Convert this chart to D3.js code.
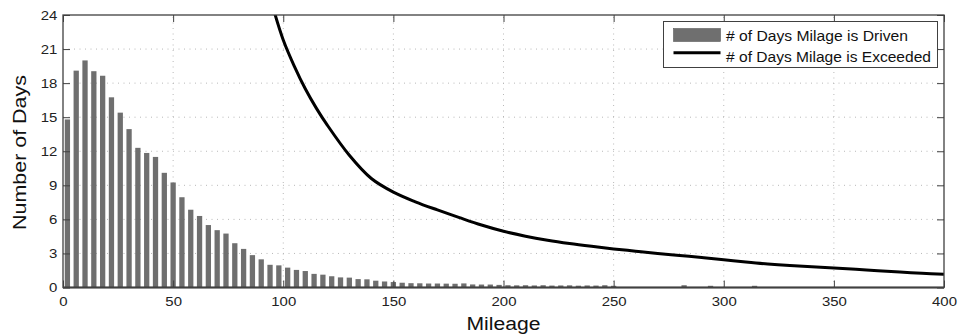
<!DOCTYPE html>
<html>
<head>
<meta charset="utf-8">
<script src="https://cdn.jsdelivr.net/npm/d3@7/dist/d3.min.js"></script>
<style>
  html, body { margin: 0; padding: 0; background: #fff; }
  svg { display: block; font-family: "Liberation Sans", Arial, Helvetica, sans-serif; }
</style>
</head>
<body>
<svg id="chart" width="961" height="335"></svg>
<script>
// Daily mileage histogram (4-mile bins starting at 0) and exceedance curve
const binWidth = 4;
const driven = [
  14.8, 19.1, 20.0, 19.05, 18.65, 16.75, 15.4, 13.95, 12.3, 11.85,
  11.5, 10.1, 9.25, 7.95, 6.85, 6.3, 5.5, 5.05, 4.75, 3.9,
  3.4, 2.85, 2.48, 2.0, 1.95, 1.75, 1.55, 1.45, 1.2, 1.13,
  0.99, 0.89, 0.87, 0.74, 0.72, 0.6, 0.53, 0.48, 0.42, 0.38,
  0.37, 0.35, 0.35, 0.34, 0.33, 0.36, 0.27, 0.26, 0.26, 0.23,
  0.2, 0.19, 0.2, 0.18, 0.2, 0.17, 0.18, 0.19, 0.16, 0.18,
  0.17, 0.2, 0.15, 0, 0, 0, 0, 0, 0, 0,
  0.2, 0, 0, 0.15, 0, 0, 0, 0, 0.15, 0,
  0, 0, 0, 0, 0, 0, 0, 0, 0, 0,
  0, 0, 0, 0, 0, 0, 0, 0, 0, 0
];

const exceedMiles = [85, 90, 95, 100, 105, 110, 115, 120, 130, 140, 150, 160, 170, 180, 190,
  200, 210, 220, 230, 240, 250, 260, 270, 280, 290, 300, 310, 320, 330, 340, 350,
  360, 370, 380, 390, 400];
const exceedDays = [33.0, 28.6, 24.9, 21.8, 19.5, 17.5, 15.8, 14.3, 11.65, 9.6, 8.4, 7.55, 6.83, 6.15, 5.5,
  4.95, 4.52, 4.17, 3.88, 3.63, 3.4, 3.2, 3.0, 2.82, 2.64, 2.45, 2.25, 2.07, 1.93, 1.82, 1.72,
  1.6, 1.47, 1.36, 1.26, 1.16];

const xTicks = [0, 50, 100, 150, 200, 250, 300, 350, 400];
const yTicks = [0, 3, 6, 9, 12, 15, 18, 21, 24];

const xLabel = "Mileage";
const yLabel = "Number of Days";
const legendLabels = ["# of Days Milage is Driven", "# of Days Milage is Exceeded"];

const barColor = "#6f6f6f";
const axisColor = "#404040";
const gridColor = "#b8b8b8";

const svg = d3.select("#chart");
const margin = { left: 63, top: 15, right: 17, bottom: 47.5 };
const W = 961, H = 335;
const x0 = margin.left, x1 = W - margin.right;
const y0 = H - margin.bottom, y1 = margin.top;

const x = d3.scaleLinear().domain([0, 400]).range([x0, x1]);
const y = d3.scaleLinear().domain([0, 24]).range([y0, y1]);

svg.append("defs").append("clipPath").attr("id", "plotClip")
  .append("rect").attr("x", x0).attr("y", y1).attr("width", x1 - x0).attr("height", y0 - y1);

// dotted grid
const grid = svg.append("g");
grid.selectAll("line.gx").data(xTicks.filter(t => t > 0 && t < 400)).join("line")
  .attr("x1", d => x(d)).attr("x2", d => x(d)).attr("y1", y0).attr("y2", y1)
  .attr("stroke", gridColor).attr("stroke-width", 1).attr("stroke-dasharray", "1,4.5");
grid.selectAll("line.gy").data(yTicks.filter(t => t > 0 && t < 24)).join("line")
  .attr("y1", d => y(d)).attr("y2", d => y(d)).attr("x1", x0).attr("x2", x1)
  .attr("stroke", gridColor).attr("stroke-width", 1).attr("stroke-dasharray", "1,4.5");

// histogram bars
const barFrac = 0.6;
svg.append("g").attr("clip-path", "url(#plotClip)")
  .selectAll("rect").data(driven.map((v, i) => ({ c: i * binWidth + binWidth / 2, v })))
  .join("rect")
  .attr("x", d => x(d.c - binWidth * barFrac / 2))
  .attr("width", d => x(d.c + binWidth * barFrac / 2) - x(d.c - binWidth * barFrac / 2))
  .attr("y", d => y(d.v))
  .attr("height", d => y(0) - y(d.v))
  .attr("fill", barColor);

// exceedance curve
const line = d3.line().x(d => x(d[0])).y(d => y(d[1])).curve(d3.curveCatmullRom.alpha(0.5));
svg.append("path").attr("clip-path", "url(#plotClip)")
  .datum(exceedMiles.map((m, i) => [m, exceedDays[i]]))
  .attr("d", line).attr("fill", "none").attr("stroke", "#000").attr("stroke-width", 3)
  .attr("stroke-linejoin", "round");

// axes with inward ticks on all four sides
function styleAxis(g) {
  g.selectAll(".domain").remove();
  g.selectAll(".tick line").attr("stroke", axisColor).attr("stroke-width", 1);
  g.selectAll(".tick text").attr("fill", "#222").attr("font-size", 13)
    .attr("transform", "scale(1.15,1)");
}
svg.append("g").attr("transform", `translate(0,${y0})`)
  .call(d3.axisBottom(x).tickValues(xTicks).tickSize(-7).tickPadding(9).tickFormat(d3.format("d")))
  .call(styleAxis);
svg.append("g").attr("transform", `translate(${x0},0)`)
  .call(d3.axisLeft(y).tickValues(yTicks).tickSize(-7).tickPadding(5).tickFormat(d3.format("d")))
  .call(styleAxis);
svg.append("g").attr("transform", `translate(0,${y1})`)
  .call(d3.axisTop(x).tickValues(xTicks).tickSize(-7).tickFormat(""))
  .call(styleAxis);
svg.append("g").attr("transform", `translate(${x1},0)`)
  .call(d3.axisRight(y).tickValues(yTicks).tickSize(-7).tickFormat(""))
  .call(styleAxis);

// plot frame
svg.append("rect").attr("x", x0).attr("y", y1).attr("width", x1 - x0).attr("height", y0 - y1)
  .attr("fill", "none").attr("stroke", axisColor).attr("stroke-width", 1.3);
svg.append("line").attr("x1", x0).attr("x2", x1).attr("y1", y0).attr("y2", y0)
  .attr("stroke", axisColor).attr("stroke-width", 2);

// axis titles
svg.append("text").attr("x", (x0 + x1) / 2).attr("y", 330).attr("text-anchor", "middle")
  .attr("font-size", 18).attr("fill", "#111")
  .attr("textLength", 74).attr("lengthAdjust", "spacingAndGlyphs").text(xLabel);
svg.append("text").attr("transform", `translate(26,152.5) rotate(-90)`).attr("text-anchor", "middle")
  .attr("font-size", 18).attr("fill", "#111")
  .attr("textLength", 155).attr("lengthAdjust", "spacingAndGlyphs").text(yLabel);

// legend
const lg = svg.append("g");
lg.append("rect").attr("x", 663.5).attr("y", 21.5).attr("width", 274).attr("height", 46)
  .attr("fill", "#fff").attr("stroke", axisColor).attr("stroke-width", 1);
lg.append("rect").attr("x", 673.5).attr("y", 28.5).attr("width", 47).attr("height", 13)
  .attr("fill", barColor).attr("stroke", "#5a5a5a").attr("stroke-width", 0.6);
lg.append("line").attr("x1", 673.5).attr("x2", 720.5).attr("y1", 52.7).attr("y2", 52.7)
  .attr("stroke", "#000").attr("stroke-width", 3);
lg.append("text").attr("x", 726).attr("y", 40.7).attr("font-size", 14).attr("fill", "#111")
  .attr("textLength", 182).attr("lengthAdjust", "spacingAndGlyphs").text(legendLabels[0]);
lg.append("text").attr("x", 726).attr("y", 61.7).attr("font-size", 14).attr("fill", "#111")
  .attr("textLength", 205).attr("lengthAdjust", "spacingAndGlyphs").text(legendLabels[1]);
</script>
</body>
</html>
